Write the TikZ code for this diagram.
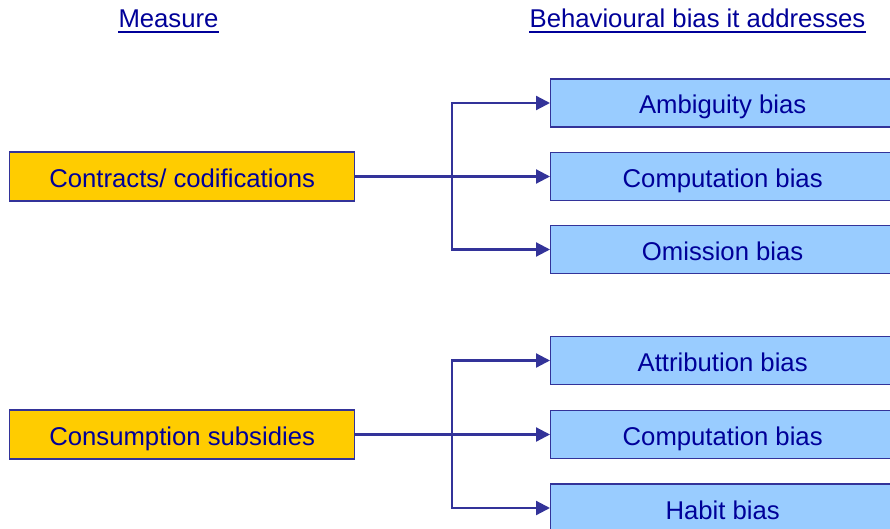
\documentclass[tikz,border=0pt]{standalone}
\usepackage{fontspec}
\setmainfont{Liberation Sans}
\usetikzlibrary{arrows.meta}
\definecolor{inkblue}{HTML}{000099}
\definecolor{linkblue}{HTML}{333399}
\definecolor{measurefill}{HTML}{FFCC00}
\definecolor{biasfill}{HTML}{99CCFF}
\tikzset{
  every node/.style={font=\fontsize{25.7}{30}\selectfont, text=inkblue},
  boxtext/.style={inner sep=0pt, text height=22pt, text depth=0pt, anchor=west},
  measurebox/.style={boxtext, draw=linkblue, line width=1.3pt, fill=measurefill,
    minimum width=345pt, minimum height=49pt},
  biasbox/.style={boxtext, draw=linkblue, line width=1.3pt, fill=biasfill,
    minimum width=344pt, minimum height=48pt},
  heading/.style={inner sep=0pt, anchor=base},
  link/.style={draw=linkblue, line width=2.2pt},
  linkarrow/.style={link, -{Triangle[length=14pt,width=14pt]}}
}
\begin{document}
\begin{tikzpicture}[x=1pt, y=-1pt]
  \clip (0,0) rectangle (890,529);
  \fill[white] (0,0) rectangle (890,529);

  % column headings, underlined
  \node[heading] (hmeasure) at (168.5,27.5) {Measure};
  \node[heading] (hbias) at (697.5,27.5) {Behavioural bias it addresses};
  \draw[inkblue, line width=2pt] (hmeasure.base west) ++(0,4.5) -- (hmeasure.base east |- 0,32);
  \draw[inkblue, line width=2pt] (hbias.base west) ++(0,4.5) -- (hbias.base east |- 0,32);

  % first measure and its biases
  \node[measurebox] (m1) at (9,176.5) {Contracts/ codifications};
  \node[biasbox] (b1) at (550,103) {Ambiguity bias};
  \node[biasbox] (b2) at (550,176.5) {Computation bias};
  \node[biasbox] (b3) at (550,249.5) {Omission bias};
  \coordinate (j1) at (452,176.5);
  \draw[link] (m1.east) -- (j1);
  \draw[linkarrow] (j1) |- (b1.west);
  \draw[linkarrow] (j1) -- (b2.west);
  \draw[linkarrow] (j1) |- (b3.west);

  % second measure and its biases
  \node[measurebox] (m2) at (9,434.5) {Consumption subsidies};
  \node[biasbox] (b4) at (550,360.5) {Attribution bias};
  \node[biasbox] (b5) at (550,434.5) {Computation bias};
  \node[biasbox] (b6) at (550,508) {Habit bias};
  \coordinate (j2) at (452,434.5);
  \draw[link] (m2.east) -- (j2);
  \draw[linkarrow] (j2) |- (b4.west);
  \draw[linkarrow] (j2) -- (b5.west);
  \draw[linkarrow] (j2) |- (b6.west);
\end{tikzpicture}
\end{document}
